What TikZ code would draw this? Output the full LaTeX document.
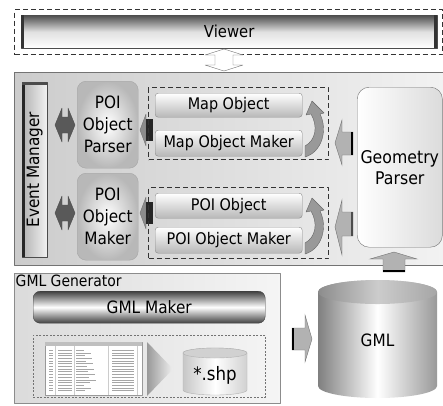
\documentclass[tikz,border=0pt]{standalone}
\usepackage{fontspec}
\setmainfont{DejaVu Sans}[FakeStretch=0.9]
\usetikzlibrary{positioning}

\tikzset{
  panel/.style={draw=black!55, line width=1pt, left color=black!20, right color=black!5},
  dashbox/.style={draw=black!80, dash pattern=on 5pt off 3pt, line width=1pt},
  thindash/.style={draw=black!55, dash pattern=on 2pt off 1.5pt, line width=0.8pt},
  viewerbar/.style={draw=black!70, top color=black!70, bottom color=white, middle color=black!12, inner sep=0pt, font=\fontsize{16.5}{19}\selectfont},
  objbar/.style={draw=black!45, rounded corners=3pt, top color=white, bottom color=black!28, inner sep=0pt, minimum width=147pt, font=\fontsize{16}{18}\selectfont},
  poibox/.style={draw=black!35, rounded corners=9pt, inner color=white, outer color=black!28, align=center, minimum width=61pt, minimum height=87pt, inner sep=0pt, font=\fontsize{17}{22}\selectfont},
  garrow/.style={draw=black!55, fill=black!30, line join=miter},
  darrow/.style={draw=black!70, fill=black!65},
  tailbar/.style={draw=black, line width=2.5pt},
}

\begin{document}
\begin{tikzpicture}[x=1pt, y=-1pt, line join=round]
\useasboundingbox (0,0) rectangle (443,405);

% viewer layer
\node[dashbox, anchor=north west, minimum width=428pt, minimum height=45pt] (viewzone) at (14,9) {};
\node[viewerbar, anchor=north west, minimum width=416pt, minimum height=33pt] (viewer) at (21,15) {Viewer};
\fill[black!80] (viewer.north west) rectangle ++(3,33);
\fill[black!80] (viewer.north east) rectangle ++(-3,33);
\filldraw[fill=white, draw=black!55] (224,49) -- (243,55) -- (233,55) -- (233,65) -- (243,65)
  -- (224,71) -- (205,65) -- (215,65) -- (215,55) -- (205,55) -- cycle;

% core panel
\node[panel, anchor=north west, minimum width=432pt, minimum height=193pt] (core) at (14,72) {};

\node[draw=black!70, left color=black!30, right color=black!5, anchor=north west,
  minimum width=25pt, minimum height=175pt, inner sep=0pt] (evt) at (22,82) {};
\fill[black!85] (evt.north west) rectangle ++(3,175);
\fill[black!70] (evt.north west) rectangle ++(25,3);
\node[rotate=90, font=\fontsize{17}{20}\selectfont] (evtlabel) at (evt.center) {Event Manager};

\foreach \cy in {125,213} {
  \filldraw[darrow] (55,\cy) -- (62,\cy-17) -- (62,\cy-8) -- (68,\cy-8) -- (68,\cy-17) -- (75,\cy)
    -- (68,\cy+17) -- (68,\cy+8) -- (62,\cy+8) -- (62,\cy+17) -- cycle;
}

\node[poibox, anchor=north west] (parser) at (77,81) {POI\\Object\\Parser};
\node[poibox, anchor=north west] (maker) at (77,173) {POI\\Object\\Maker};

\foreach \cy in {130,213} {
  \filldraw[draw=black!55, fill=black!45] (140,\cy) -- (146,\cy-16) -- (146,\cy+16) -- cycle;
  \fill[black!85] (146,\cy-11) rectangle (153,\cy+11);
}

\node[dashbox, anchor=north west, minimum width=180pt, minimum height=72pt] (mapzone) at (148,87) {};
\node[dashbox, anchor=north west, minimum width=180pt, minimum height=71pt] (poizone) at (148,187) {};

\node[objbar, anchor=north west, minimum height=24pt] (mapobj) at (155,93) {Map Object};
\node[objbar, anchor=north west, minimum height=26pt] (mapmaker) at (155,130) {Map Object Maker};
\node[objbar, anchor=north west, minimum height=25pt] (poiobj) at (155,193) {POI Object};
\node[objbar, anchor=north west, minimum height=26pt] (poimaker) at (155,227) {POI Object Maker};

\foreach \dy in {0,97} {
  \filldraw[draw=black!60, fill=black!40] (305,157+\dy) .. controls (322,152+\dy) and (328,130+\dy) .. (320,114+\dy)
    -- (324,113+\dy) -- (312,101+\dy) -- (306,115+\dy) -- (311,114+\dy)
    .. controls (318,126+\dy) and (316,140+\dy) .. (305,146+\dy) -- cycle;
}

\node[draw=black!55, rounded corners=12pt, left color=white, right color=black!14,
  anchor=north west, minimum width=83pt, minimum height=160pt, align=center,
  font=\fontsize{17.5}{21}\selectfont] (gp) at (357,87) {Geometry\\Parser};

\filldraw[garrow] (335,143) -- (342,120) -- (342,132) -- (353,132) -- (353,155) -- (342,155) -- (342,165) -- cycle;
\draw[tailbar] (352,132) -- (352,155);
\filldraw[garrow] (335,227) -- (342,200) -- (342,212) -- (353,212) -- (353,236) -- (342,236) -- (342,255) -- cycle;
\draw[tailbar, black!70] (352,212) -- (352,236);

% generator
\node[draw=black!45, line width=1pt, left color=black!14, right color=black!4, anchor=north west,
  minimum width=266pt, minimum height=130pt] (gen) at (14,273) {};
\node[anchor=north west, inner sep=1.5pt, font=\fontsize{15.5}{18}\selectfont] (genlabel) at (gen.north west) {GML Generator};
\node[draw=black!75, rounded corners=7pt, top color=black!75, bottom color=black!75, middle color=white,
  anchor=north west, minimum width=232pt, minimum height=32pt, font=\fontsize{17}{20}\selectfont] (gmlmaker) at (33,291) {GML Maker};
\node[thindash, anchor=north west, minimum width=232pt, minimum height=62pt] (srczone) at (33,335) {};

\node[draw=black!40, fill=white, anchor=north west, minimum width=97pt, minimum height=53pt, inner sep=0pt] (sheet) at (45,342) {};
\fill[black!25] (sheet.north west) rectangle ++(97,4);
\foreach \r in {0,...,15} {
  \draw[black!35, line width=0.4pt] (49,350+2.7*\r) -- ++(4,0);
  \draw[black!35, line width=0.4pt] (58,350+2.7*\r) -- ++(14,0);
  \draw[black!35, line width=0.4pt] (76,350+2.7*\r) -- ++({8+mod(\r*7,13)},0);
  \draw[black!35, line width=0.4pt] (112,350+2.7*\r) -- ++(22,0);
}
\draw[black!20, line width=0.3pt] (55,346) -- (55,395) (74,346) -- (74,395) (108,346) -- (108,395) (137,346) -- (137,395);

\path[left color=black!40, right color=black!6] (147,342) -- (173,369) -- (147,396) -- cycle;

\path[draw=black!30, left color=black!22, right color=black!18, middle color=white]
  (183,353) -- (183,390) arc[start angle=180, end angle=360, x radius=32pt, y radius=5pt]
  -- (247,353) arc[start angle=0, end angle=180, x radius=32pt, y radius=5pt] -- cycle;
\filldraw[draw=black!30, fill=black!18] (215,353) ellipse [x radius=32pt, y radius=5pt];
\node[font=\fontsize{18.5}{21}\selectfont] (shp) at (215,375) {*.shp};

% gml store
\path[left color=black!50, right color=black!40, middle color=white]
  (318,292) -- (318,386) arc[start angle=180, end angle=360, x radius=59.5pt, y radius=12pt]
  -- (437,292) arc[start angle=0, end angle=180, x radius=59.5pt, y radius=12pt] -- cycle;
\path[left color=black!45, right color=black!35, middle color=black!20] (377.5,292) ellipse [x radius=59.5pt, y radius=12pt];
\node[font=\fontsize{17}{20}\selectfont] (gml) at (377.5,340) {GML};

\filldraw[garrow] (394,252) -- (417,259) -- (405,259) -- (405,272) -- (383,272) -- (383,259) -- (370,259) -- cycle;
\draw[tailbar] (383,271) -- (405,271);
\filldraw[garrow] (312,339) -- (305,362) -- (305,350) -- (292,350) -- (292,328) -- (305,328) -- (305,315) -- cycle;
\draw[tailbar] (293,328) -- (293,350);
\end{tikzpicture}
\end{document}
